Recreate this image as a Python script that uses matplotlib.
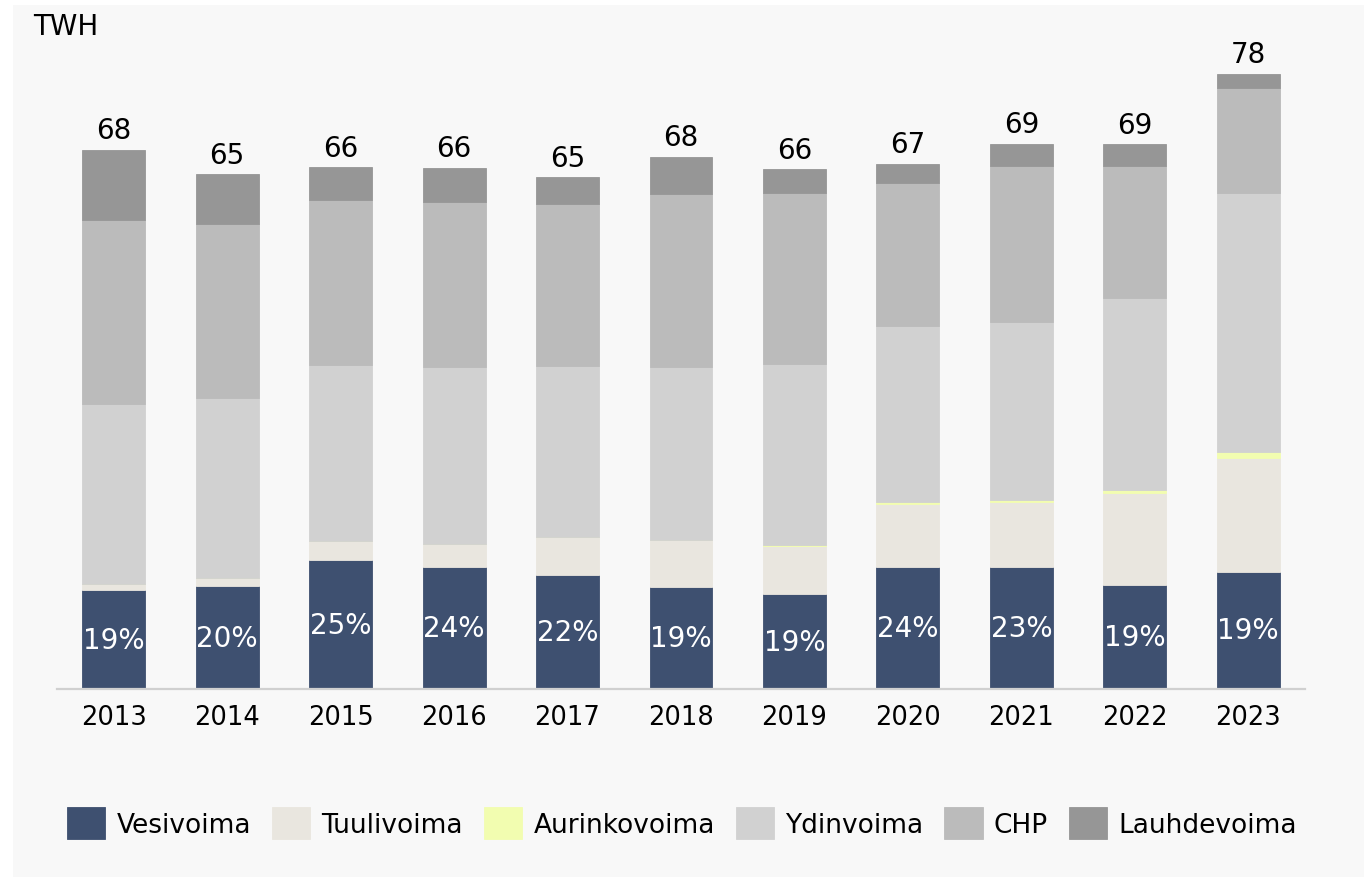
import numpy as np
import matplotlib.pyplot as plt
from matplotlib.patches import Rectangle

# Data (TWh)
years = ['2013', '2014', '2015', '2016', '2017', '2018',
         '2019', '2020', '2021', '2022', '2023']
vesivoima = [12.5, 13.0, 16.3, 15.4, 14.4, 12.9, 12.0, 15.4, 15.4, 13.2, 14.8]
tuulivoima = [0.8, 1.1, 2.4, 3.0, 4.8, 5.9, 6.1, 8.0, 8.2, 11.6, 14.4]
aurinkovoima = [0.0, 0.0, 0.0, 0.0, 0.0, 0.0, 0.15, 0.25, 0.35, 0.4, 0.75]
ydinvoima = [22.7, 22.7, 22.3, 22.3, 21.6, 21.9, 22.9, 22.3, 22.5, 24.2, 32.8]
chp = [23.3, 22.0, 20.9, 20.9, 20.6, 21.9, 21.6, 18.1, 19.7, 16.7, 13.3]
lauhdevoima = [8.9, 6.3, 4.1, 4.3, 3.3, 4.7, 3.0, 2.4, 2.8, 2.8, 1.8]
totals = [68, 65, 66, 66, 65, 68, 66, 67, 69, 69, 78]
hydro_share = ['19%', '20%', '25%', '24%', '22%', '19%',
               '19%', '24%', '23%', '19%', '19%']

series = [
    ('Vesivoima', vesivoima, '#3e5070'),
    ('Tuulivoima', tuulivoima, '#e9e6df'),
    ('Aurinkovoima', aurinkovoima, '#f2fdb0'),
    ('Ydinvoima', ydinvoima, '#d1d1d1'),
    ('CHP', chp, '#bbbbbb'),
    ('Lauhdevoima', lauhdevoima, '#969696'),
]

plt.rcParams['font.family'] = ['DejaVu Sans']

fig = plt.figure(figsize=(13.64, 8.78), dpi=100, facecolor='white')
# light grey panel behind everything (white strip on left and top)
fig.patches.append(Rectangle((13 / 1364, 0), 1, 1 - 6 / 878,
                             transform=fig.transFigure, facecolor='#f8f8f8',
                             edgecolor='none', zorder=-10))

ax = fig.add_axes([57 / 1364, 188 / 878, 1248 / 1364, 672 / 878])
ax.set_facecolor('none')

x = np.arange(len(years))
width = 0.555
bottom = np.zeros(len(years))
handles = []
for name, vals, color in series:
    vals = np.array(vals)
    b = ax.bar(x, vals, width, bottom=bottom, color=color, label=name,
               edgecolor=color, linewidth=0.6, zorder=2)
    handles.append(b)
    bottom = bottom + vals

# hydro share labels inside the bottom segment
for xi, v, lab in zip(x, vesivoima, hydro_share):
    ax.text(xi, v / 2, lab, ha='center', va='center', color='white',
            fontsize=20, zorder=3)

# total labels on top
for xi, top, tot in zip(x, bottom, totals):
    ax.annotate(str(tot), (xi, top), xytext=(0, 4), textcoords='offset points',
                ha='center', va='bottom', fontsize=20, color='black')

ax.set_xlim(-0.5, 10.5)
ax.set_ylim(0, 85)
ax.set_xticks(x)
ax.set_xticklabels(years, fontsize=18.5, color='black')
ax.tick_params(axis='x', length=0, pad=11)
ax.set_yticks([])
for side in ['top', 'right', 'left']:
    ax.spines[side].set_visible(False)
ax.spines['bottom'].set_color('#d0d0d0')
ax.spines['bottom'].set_linewidth(1.6)

fig.text(33 / 1364, 1 - 13 / 878, 'TWH', ha='left', va='top',
         fontsize=20, color='black')

fig.legend(handles=handles, loc='center', ncol=6,
           bbox_to_anchor=(0.5, 1 - 824 / 878), frameon=False,
           fontsize=19, handlelength=1.45, handleheight=1.45,
           handletextpad=0.42, columnspacing=0.8)

fig.savefig('out.png', dpi=100, facecolor=fig.get_facecolor())
